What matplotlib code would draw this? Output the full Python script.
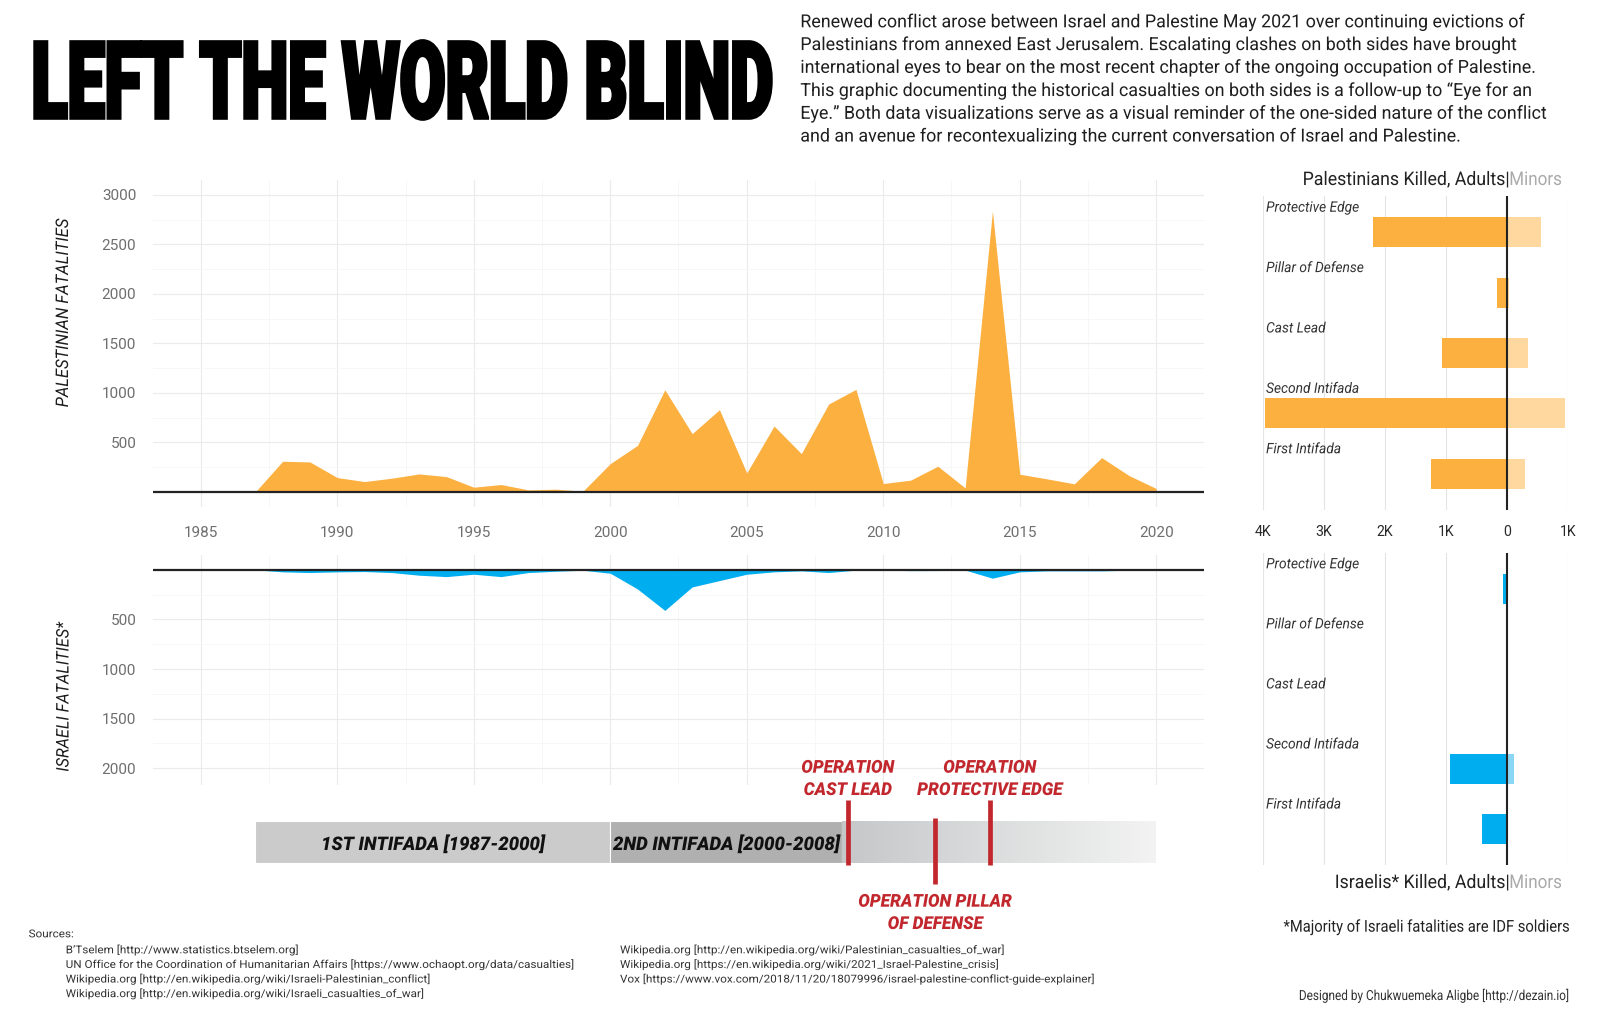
import numpy as np
import matplotlib
matplotlib.use("Agg")
import matplotlib.pyplot as plt
import matplotlib.patheffects as pe
from matplotlib.transforms import Affine2D
from matplotlib.colors import LinearSegmentedColormap
from matplotlib.patches import Rectangle
from matplotlib.font_manager import FontProperties

plt.rcParams['font.family'] = ['Roboto', 'DejaVu Sans']

# ---------------- data ----------------
years = list(range(1985, 2021))
pal_fatalities = [0, 0, 0, 309, 302, 144, 104, 138, 181, 154, 47, 74, 20, 27, 7,
                  285, 470, 1031, 588, 830, 191, 665, 386, 887, 1035, 84, 118, 259,
                  40, 2835, 178, 131, 81, 346, 165, 34]
isr_fatalities = [0, 0, 0, 20, 27, 20, 17, 27, 54, 68, 44, 68, 27, 14, 4,
                  34, 193, 409, 172, 108, 44, 20, 10, 27, 3, 3, 8, 7,
                  2, 84, 20, 10, 10, 10, 4, 0]
year_ticks = [1985, 1990, 1995, 2000, 2005, 2010, 2015, 2020]
pal_yticks = [500, 1000, 1500, 2000, 2500, 3000]
isr_yticks = [500, 1000, 1500, 2000]

conflicts = ['First Intifada', 'Second Intifada', 'Cast Lead', 'Pillar of Defense', 'Protective Edge']
pal_adults = [1246, 3960, 1055, 164, 2200]
pal_minors = [306, 956, 350, 33, 557]
isr_adults = [400, 924, 0, 0, 66]
isr_minors = [0, 120, 0, 0, 0]
bar_ticks = [-4000, -3000, -2000, -1000, 0, 1000]
bar_tick_labels = ['4K', '3K', '2K', '1K', '0', '1K']

intifada_labels = ['1ST INTIFADA [1987-2000]', '2ND INTIFADA [2000-2008]']
intifada_start = [1987, 2000]
intifada_end = [2000, 2008.5]
later_span = [2008.5, 2020]
operation_labels = ['OPERATION\nCAST LEAD', 'OPERATION PILLAR\nOF DEFENSE', 'OPERATION\nPROTECTIVE EDGE']
operation_years = [2008.7, 2011.9, 2013.9]

title_text = 'LEFT THE WORLD BLIND'
description_lines = [
    'Renewed conflict arose between Israel and Palestine May 2021 over continuing evictions of',
    'Palestinians from annexed East Jerusalem. Escalating clashes on both sides have brought',
    'international eyes to bear on the most recent chapter of the ongoing occupation of Palestine.',
    'This graphic documenting the historical casualties on both sides is a follow-up to \u201cEye for an',
    'Eye.\u201d Both data visualizations serve as a visual reminder of the one-sided nature of the conflict',
    'and an avenue for recontexualizing the current conversation of Israel and Palestine.',
]
sources_left = [
    'B\u2019Tselem [http://www.statistics.btselem.org]',
    'UN Office for the Coordination of Humanitarian Affairs [https://www.ochaopt.org/data/casualties]',
    'Wikipedia.org [http://en.wikipedia.org/wiki/Israeli-Palestinian_conflict]',
    'Wikipedia.org [http://en.wikipedia.org/wiki/Israeli_casualties_of_war]',
]
sources_right = [
    'Wikipedia.org [http://en.wikipedia.org/wiki/Palestinian_casualties_of_war]',
    'Wikipedia.org [https://en.wikipedia.org/wiki/2021_Israel-Palestine_crisis]',
    'Vox [https://www.vox.com/2018/11/20/18079996/israel-palestine-conflict-guide-explainer]',
]

ORANGE, ORANGE_L = '#FBB040', '#FED89E'
BLUE, BLUE_L = '#00AEEF', '#8AD7F5'
RED = '#C1272D'

# ---------------- helpers ----------------
class Condense(pe.AbstractPathEffect):
    """Draw text rescaled along its baseline (sx) and its height (sy)."""
    def __init__(self, sx, ha='left', stroke=0.0, sy=1.0):
        super().__init__()
        self.sx, self.ha, self.stroke, self.sy = sx, ha, stroke, sy

    def draw_path(self, renderer, gc, tpath, affine, rgbFace=None):
        if len(tpath.vertices) == 0:
            return
        w = tpath.get_extents().x1
        shift = {'left': 0.0, 'center': (1 - self.sx) * w / 2,
                 'right': (1 - self.sx) * w}[self.ha]
        tr = Affine2D().scale(self.sx, self.sy).translate(shift, 0) + affine
        gc0 = renderer.new_gc()
        gc0.copy_properties(gc)
        if self.stroke:
            gc0.set_linewidth(self.stroke)
            gc0.set_foreground(rgbFace)
            gc0.set_joinstyle('miter')
        renderer.draw_path(gc0, tpath, tr, rgbFace)
        gc0.restore()


W, H = 1600, 1029
fig = plt.figure(figsize=(16, 10.29), dpi=100)
fig.patch.set_facecolor('white')
R = fig.canvas.get_renderer()


def P(x, y):
    return x / W, 1 - y / H


def axes_px(x0, x1, y0, y1):
    return fig.add_axes([x0 / W, 1 - y1 / H, (x1 - x0) / W, (y1 - y0) / H])


def measure(t, vertical=False):
    bb = t.get_window_extent(renderer=R)
    return bb.height if vertical else bb.width


def squeeze(t, sx, ha='left', stroke=0.0):
    t.set_path_effects([Condense(sx, ha, stroke)])


def fit(t, target, ha='left', vertical=False, stroke=0.0):
    sx = target / measure(t, vertical)
    squeeze(t, sx, ha, stroke)
    return sx


def fit_tall(t, target, ha='left', stroke=0.0):
    """Shrink the font so its natural width matches, then stretch it back up."""
    s0 = target / measure(t)
    t.set_fontsize(t.get_fontsize() * s0)
    s1 = target / measure(t)
    t.set_path_effects([Condense(s1, ha, stroke, sy=1.0 / s0)])


# ---------------- title & description ----------------
tt = fig.text(*P(31.5, 118), title_text, fontsize=77, weight='black',
              color='black', ha='left', va='baseline')
fit_tall(tt, 742, 'left', stroke=2.6)

desc_size = 13.0
desc_gap = 22.65          # baseline-to-baseline distance in pixels
fp = FontProperties(family=['Roboto', 'DejaVu Sans'], size=desc_size)
_, lp_h, lp_d = R.get_text_width_height_descent('lp', fp, ismath=False)
desc_ls = (desc_gap - lp_d) / (lp_h - lp_d)
desc = fig.text(*P(800.3, 28.3 + (len(description_lines) - 1) * desc_gap),
                '\n'.join(description_lines), fontsize=desc_size, linespacing=desc_ls,
                color='#1e1e1e', ha='left', va='baseline', multialignment='left')
fit(desc, 746.4, 'left')

# ---------------- area charts ----------------
minor_x = np.arange(1987.5, 2020, 5)


def style_area(ax, yticks, minor_y):
    ax.set_xticks(year_ticks)
    ax.set_xticks(minor_x, minor=True)
    ax.set_yticks(yticks)
    ax.set_yticks(minor_y, minor=True)
    ax.grid(which='major', color='#ebebeb', lw=0.8)
    ax.grid(which='minor', color='#f6f6f6', lw=0.6)
    ax.set_axisbelow(True)
    for s in ax.spines.values():
        s.set_visible(False)
    ax.tick_params(which='both', length=0)
    ax.tick_params(axis='y', pad=12, labelsize=11, labelcolor='#6e6e6e')
    ax.tick_params(axis='x', pad=14, labelsize=11, labelcolor='#6e6e6e')
    ax.set_facecolor('none')


ax1 = axes_px(153, 1204, 180, 506.7)
ax1.fill_between(years, 0, pal_fatalities, color=ORANGE, lw=0, zorder=2)
ax1.axhline(0, color='#222222', lw=1.6, zorder=3)
ax1.set_xlim(1983.25, 2021.75)
ax1.set_ylim(-150, 3150)
style_area(ax1, pal_yticks, np.arange(250, 3000, 500))

ax2 = axes_px(153, 1204, 555, 785)
ax2.fill_between(years, 0, isr_fatalities, color=BLUE, lw=0, zorder=2)
ax2.axhline(0, color='#222222', lw=1.6, zorder=3)
ax2.set_xlim(1983.25, 2021.75)
ax2.set_ylim(2170, -150)
style_area(ax2, isr_yticks, np.arange(250, 2000, 500))
ax2.tick_params(axis='x', labelbottom=False)

yl1 = fig.text(*P(63.5, 312.8), 'PALESTINIAN FATALITIES', rotation=90, ha='center',
               va='center', fontsize=12.5, style='italic', color='#1e1e1e')
fit(yl1, 189, 'center', vertical=True)
yl2 = fig.text(*P(64, 696.7), 'ISRAELI FATALITIES*', rotation=90, ha='center',
               va='center', fontsize=12.5, style='italic', color='#1e1e1e')
fit(yl2, 150, 'center', vertical=True)

# ---------------- timeline ----------------
axt = axes_px(153, 1204, 740, 940)
axt.set_facecolor('none')
axt.axis('off')
box_colors = ['#cbcbcb', '#b0b0b0']
for lab, s, e, c in zip(intifada_labels, intifada_start, intifada_end, box_colors):
    axt.add_patch(Rectangle((s, 821), e - s, 41.7, facecolor=c, edgecolor='white', lw=0.8, zorder=1))
cmap = LinearSegmentedColormap.from_list('fade', ['#c6c7c9', '#f2f3f2'])
axt.imshow(np.linspace(0, 1, 256)[None, :], extent=[later_span[0], later_span[1], 862.7, 821],
           cmap=cmap, aspect='auto', interpolation='bilinear', zorder=1)
targets = [223.6, 226.6]
for lab, s, e, tw in zip(intifada_labels, intifada_start, intifada_end, targets):
    t = axt.text((s + e) / 2, 850, lab, ha='center', va='baseline', fontsize=13.5,
                 weight='black', style='italic', color='#111111', zorder=3)
    fit(t, tw, 'center')

above = [True, False, True]
op_texts = []
for lab, yr, up in zip(operation_labels, operation_years, above):
    if up:
        axt.plot([yr, yr], [800, 865], color=RED, lw=3.4, solid_capstyle='butt', zorder=4)
        base = [772.7, 795]
    else:
        axt.plot([yr, yr], [818, 884], color=RED, lw=3.4, solid_capstyle='butt', zorder=4)
        base = [906.7, 929]
    for line, b in zip(lab.split('\n'), base):
        op_texts.append(axt.text(yr, b, line, ha='center', va='baseline', fontsize=12.8,
                                 weight='black', style='italic', color=RED, zorder=4))
sx_op = 93 / measure(op_texts[0])
for t in op_texts:
    squeeze(t, sx_op, 'center')
axt.set_xlim(1983.25, 2021.75)
axt.set_ylim(940, 740)

# ---------------- bar panels ----------------
ypos = np.arange(1, len(conflicts) + 1)


def bar_panel(ax, adults, minors, c_adult, c_minor, show_ticks):
    ax.barh(ypos, -np.asarray(adults), height=0.5, color=c_adult, lw=0, zorder=2)
    ax.barh(ypos, minors, height=0.5, color=c_minor, lw=0, zorder=2)
    for v in bar_ticks:
        if v == 0:
            ax.axvline(v, color='#222222', lw=1.5, zorder=3)
        else:
            ax.axvline(v, color='#e4e4e4', lw=0.8, zorder=1)
    ax.set_xlim(-4000, 1000)
    ax.set_ylim(0.4, 5.6)
    ax.set_yticks([])
    ax.set_xticks(bar_ticks)
    ax.set_xticklabels(bar_tick_labels)
    ax.tick_params(length=0, pad=11, labelsize=10.2, labelcolor='#2a2a2a')
    if not show_ticks:
        ax.tick_params(labelbottom=False)
    for s in ax.spines.values():
        s.set_visible(False)
    ax.set_facecolor('none')
    labs = []
    for y, name in zip(ypos, conflicts):
        labs.append(ax.text(-3945, y + 0.34, name, ha='left', va='baseline', fontsize=10.4,
                            style='italic', color='#333333', zorder=4))
    return labs


ax3 = axes_px(1262.7, 1567.7, 196, 510)
labs3 = bar_panel(ax3, pal_adults, pal_minors, ORANGE, ORANGE_L, True)
ax4 = axes_px(1262.7, 1567.7, 552.7, 865)
labs4 = bar_panel(ax4, isr_adults, isr_minors, BLUE, BLUE_L, False)
sx_lab = 92.7 / measure(labs3[-1])
for t in labs3 + labs4:
    squeeze(t, sx_lab)

# panel titles
pt1 = fig.text(*P(1509.3, 185), 'Palestinians Killed, Adults|', ha='right', va='baseline',
               fontsize=13.5, color='#222222')
sx_pt = fit(pt1, 206.6, 'right')
pm1 = fig.text(*P(1562, 185), 'Minors', ha='right', va='baseline', fontsize=13.5, color='#aaaaaa')
fit(pm1, 52.7, 'right')
pt2 = fig.text(*P(1509.3, 888), 'Israelis* Killed, Adults|', ha='right', va='baseline',
               fontsize=13.5, color='#222222')
squeeze(pt2, sx_pt, 'right')
pm2 = fig.text(*P(1562, 888), 'Minors', ha='right', va='baseline', fontsize=13.5, color='#aaaaaa')
fit(pm2, 52.7, 'right')

# ---------------- footer ----------------
src = [fig.text(*P(28.6, 937.3), 'Sources:', fontsize=7.8, color='#333333', va='baseline')]
base_y = [953.3, 967.9, 982.5, 997.1]
for line, b in zip(sources_left, base_y):
    src.append(fig.text(*P(65.7, b), line, fontsize=7.8, color='#333333', va='baseline'))
for line, b in zip(sources_right, base_y):
    src.append(fig.text(*P(620, b), line, fontsize=7.8, color='#333333', va='baseline'))
sx_src = 511 / measure(src[2])
for t in src:
    squeeze(t, sx_src)

fn = fig.text(*P(1570.7, 931.7), '*Majority of Israeli fatalities are IDF soldiers', ha='right',
              va='baseline', fontsize=11.8, color='#222222')
fit(fn, 287, 'right')
dz = fig.text(*P(1569, 1000), 'Designed by Chukwuemeka Aligbe [http://dezain.io]', ha='right',
              va='baseline', fontsize=10, color='#333333')
fit(dz, 270, 'right')

fig.savefig('out.png', dpi=100, facecolor='white')
